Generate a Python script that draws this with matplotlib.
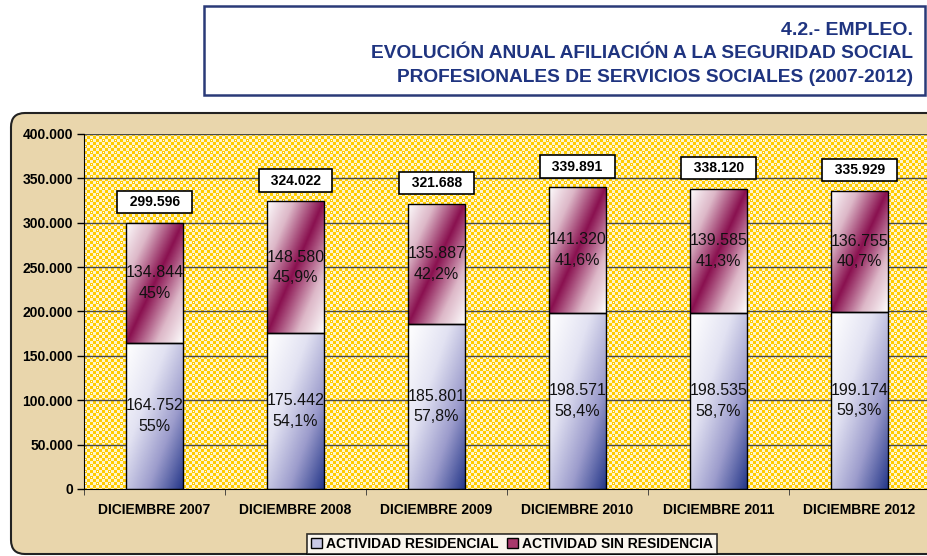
import numpy as np
import matplotlib.pyplot as plt
from matplotlib.colors import LinearSegmentedColormap
from matplotlib.patches import FancyBboxPatch, Rectangle, Patch
from matplotlib.transforms import IdentityTransform

plt.rcParams['font.family'] = ['Liberation Sans', 'DejaVu Sans']

categories = ['DICIEMBRE 2007', 'DICIEMBRE 2008', 'DICIEMBRE 2009',
              'DICIEMBRE 2010', 'DICIEMBRE 2011', 'DICIEMBRE 2012']
residencial = [164752, 175442, 185801, 198571, 198535, 199174]
sin_residencia = [134844, 148580, 135887, 141320, 139585, 136755]
totales = [299596, 324022, 321688, 339891, 338120, 335929]
pct_res = ['55%', '54,1%', '57,8%', '58,4%', '58,7%', '59,3%']
pct_sin = ['45%', '45,9%', '42,2%', '41,6%', '41,3%', '40,7%']
yticks = [0, 50000, 100000, 150000, 200000, 250000, 300000, 350000, 400000]


def miles(v):
    return '{:,}'.format(int(v)).replace(',', '.')


W, H = 928, 556
fig = plt.figure(figsize=(W / 100, H / 100), dpi=100)
fig.patch.set_facecolor('white')

# parchment panel with rounded corners
panel = FancyBboxPatch((11, 2), 940, 441, boxstyle='round,pad=0,rounding_size=14',
                       transform=IdentityTransform(), facecolor='#E9D6AC',
                       edgecolor='#222222', lw=1.5, zorder=-2)
fig.patches.append(panel)

# title box
tbox = Rectangle((204, H - 95), 721, 89, transform=IdentityTransform(),
                 facecolor='white', edgecolor='#2A3A78', lw=1.8, zorder=-2)
fig.patches.append(tbox)
navy = '#1F3480'
fig.text(913 / W, 1 - 35 / H, '4.2.- EMPLEO.', ha='right', va='baseline',
         fontsize=14, fontweight='bold', color=navy)
fig.text(913 / W, 1 - 57.5 / H, 'EVOLUCIÓN ANUAL AFILIACIÓN A LA SEGURIDAD SOCIAL',
         ha='right', va='baseline', fontsize=13.8, fontweight='bold', color=navy)
fig.text(913 / W, 1 - 82.5 / H, 'PROFESIONALES DE SERVICIOS SOCIALES (2007-2012)',
         ha='right', va='baseline', fontsize=13.8, fontweight='bold', color=navy)

# plot area
left, right, top, bottom = 84, 930, 134, 489
ax = fig.add_axes([left / W, 1 - bottom / H, (right - left) / W, (bottom - top) / H])
ax.set_facecolor('none')
x = np.arange(len(categories))
ax.set_xlim(-0.5, len(categories) - 0.5)
ax.set_ylim(0, 400000)

# yellow checker pattern behind the bars
pw, ph = right - left, bottom - top
yy, xx = np.mgrid[0:ph, 0:pw]
check = ((xx // 3 + yy // 3) % 2).astype(float)
dots = ((xx % 12 == 1) & (yy % 12 == 1)) | ((xx % 12 == 7) & (yy % 12 == 7))
img = np.zeros((ph, pw, 3))
yel = np.array([1.0, 0.80, 0.0])
pale = np.array([1.0, 0.96, 0.80])
img[:] = yel
img[check == 1] = pale
img[dots] = [1, 1, 1]
ax.imshow(img, extent=(-0.5, len(categories) - 0.5, 0, 400000), aspect='auto',
          interpolation='nearest', zorder=0)

for yv in yticks[1:]:
    ax.axhline(yv, color='#4a4a4a', lw=1, zorder=1)

cmap_res = LinearSegmentedColormap.from_list('res', ['#FFFFFF', '#E2E2F2', '#9C9CCC', '#26388A'])
cmap_sin = LinearSegmentedColormap.from_list('sin', ['#FFFFFF', '#DDB8C8', '#8A1150'])

bw = 0.4
gy, gx = np.mgrid[0:1:200j, 0:1:60j]  # gy from top(0) to bottom(1)
grad_res = (gx + gy) / 2
grad_sin = 1 - np.abs((gx + gy) - 1)

for i in range(len(categories)):
    b1 = ax.bar(x[i], residencial[i], bw, color='none', edgecolor='black', lw=1, zorder=3)[0]
    b2 = ax.bar(x[i], sin_residencia[i], bw, bottom=residencial[i], color='none',
                edgecolor='black', lw=1, zorder=3)[0]
    im1 = ax.imshow(grad_res ** 1.1, cmap=cmap_res, vmin=0, vmax=1, aspect='auto',
                    extent=(x[i] - bw / 2, x[i] + bw / 2, 0, residencial[i]), zorder=2)
    im1.set_clip_path(b1)
    im2 = ax.imshow(grad_sin ** 0.9, cmap=cmap_sin, vmin=0, vmax=1, aspect='auto',
                    extent=(x[i] - bw / 2, x[i] + bw / 2, residencial[i], totales[i]), zorder=2)
    im2.set_clip_path(b2)

    ax.text(x[i], residencial[i] / 2, miles(residencial[i]) + '\n' + pct_res[i],
            ha='center', va='center', fontsize=11.5, color='#111111', zorder=4,
            linespacing=1.45)
    ax.text(x[i], residencial[i] + sin_residencia[i] / 2,
            miles(sin_residencia[i]) + '\n' + pct_sin[i],
            ha='center', va='center', fontsize=11.5, color='#111111', zorder=4,
            linespacing=1.45)
    ax.annotate('  ' + miles(totales[i]) + '  ', (x[i], totales[i]), xytext=(0, 15),
                textcoords='offset points', ha='center', va='center',
                fontsize=10, fontweight='bold', zorder=5,
                bbox=dict(boxstyle='square,pad=0.3', fc='white', ec='black', lw=1.2))

ax.set_yticks(yticks)
ax.set_yticklabels([miles(v) for v in yticks], fontsize=10, fontweight='bold')
ax.set_xticks(x)
ax.set_xticklabels(categories, fontsize=10, fontweight='bold')
ax.tick_params(axis='x', length=0, pad=10)
ax.set_xticks(np.arange(-0.5, len(categories), 1), minor=True)
ax.tick_params(axis='x', which='minor', length=4, color='#333333')
ax.tick_params(axis='y', length=5, width=1, pad=3)
for s in ['top', 'right']:
    ax.spines[s].set_visible(False)
ax.spines['left'].set_color('black')
ax.spines['bottom'].set_color('black')

handles = [Patch(facecolor='#C8C8E6', edgecolor='black', lw=1),
           Patch(facecolor='#A8386C', edgecolor='black', lw=1)]
leg = fig.legend(handles, ['ACTIVIDAD RESIDENCIAL', 'ACTIVIDAD SIN RESIDENCIA'],
                 loc='center', bbox_to_anchor=(512 / W, 1 - 544 / H), ncol=2,
                 frameon=True, fancybox=False, edgecolor='black',
                 prop={'weight': 'bold', 'size': 10}, handlelength=0.8,
                 handleheight=0.8, handletextpad=0.3, columnspacing=0.6,
                 borderpad=0.25)
leg.get_frame().set_linewidth(1.2)

fig.savefig('out.png', dpi=100)
